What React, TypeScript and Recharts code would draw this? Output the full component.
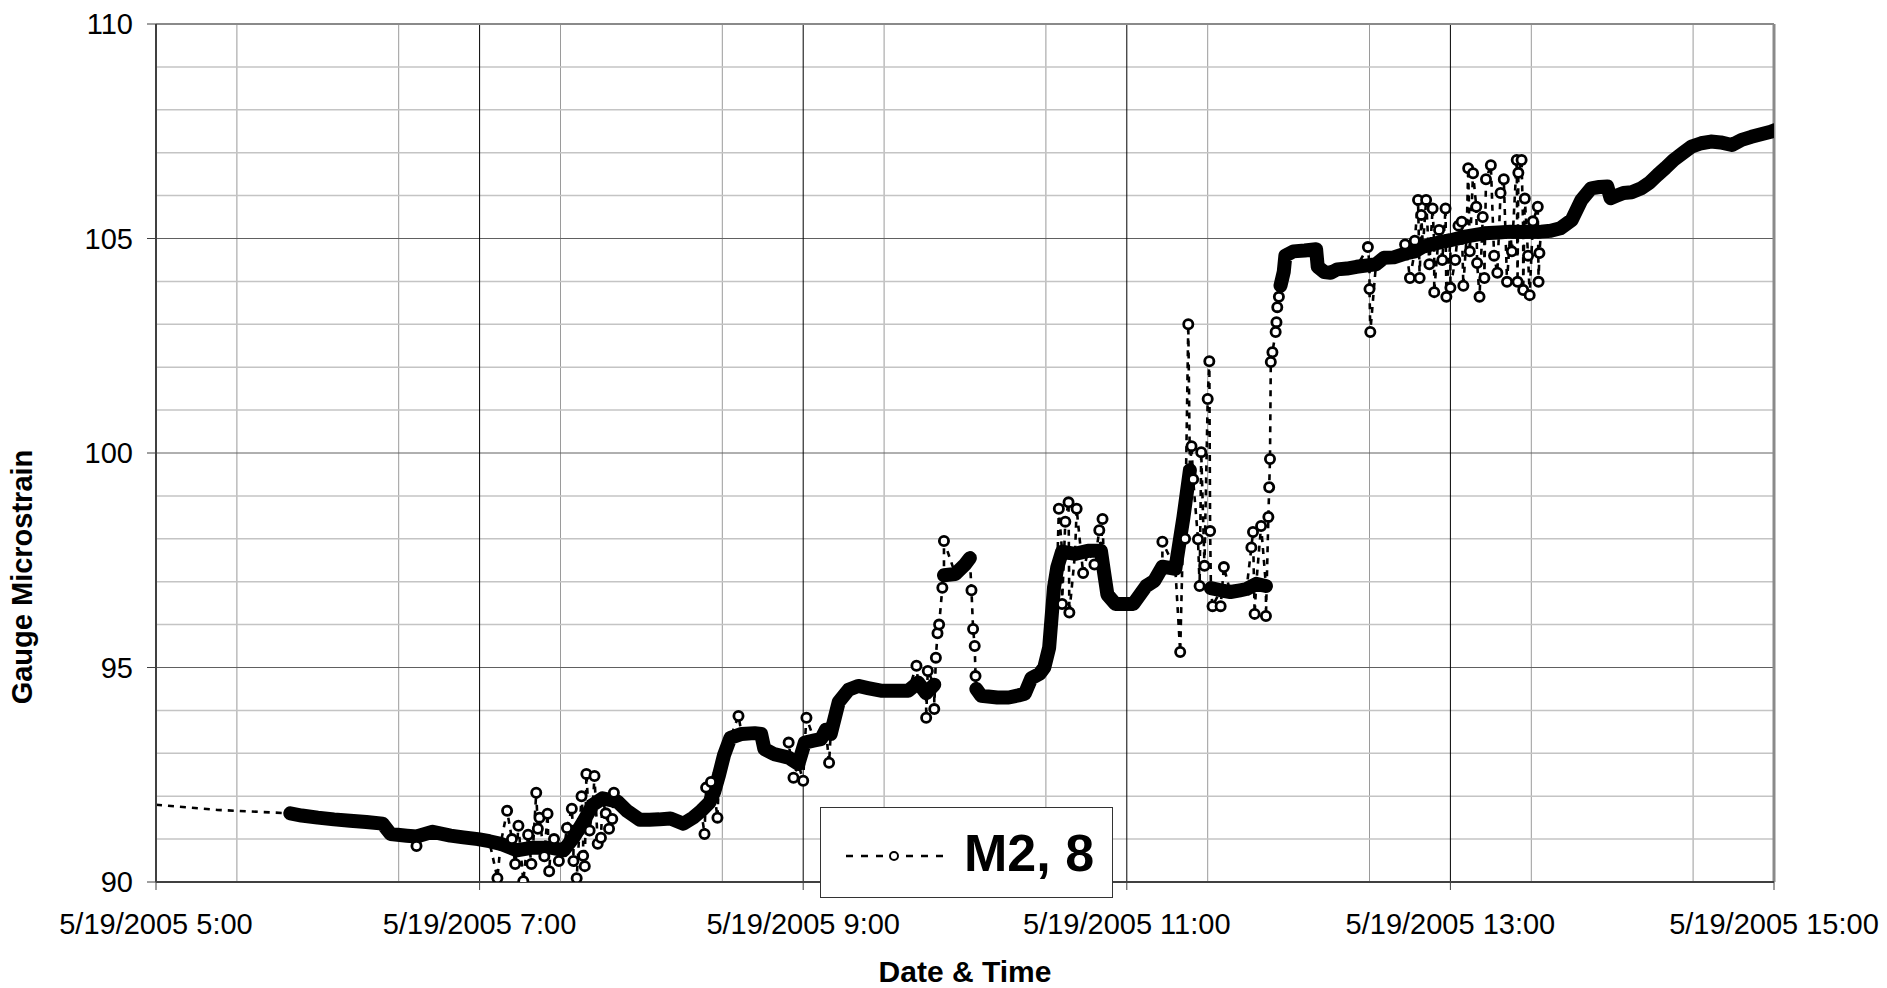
import React from 'react';
import { LineChart, Line, XAxis, YAxis, CartesianGrid } from 'recharts';

const FONT = '"Liberation Sans", Arial, Helvetica, sans-serif';

// time in hours on 5/19/2005, value in microstrain
const leadIn: [number, number][] = [
  [5.0, 91.8], [5.38, 91.68],
];

// the dense trace (null = jump drawn only as dashed points)
const trendBand: [number, number | null][] = [
  [5.83, 91.6], [5.9, 91.55], [6.0, 91.5], [6.1, 91.46], [6.2, 91.43], [6.3, 91.4],
  [6.4, 91.36], [6.45, 91.12], [6.55, 91.08], [6.61, 91.06], [6.71, 91.17], [6.82, 91.08],
  [6.9, 91.04], [6.99, 91.0], [7.06, 90.95], [7.13, 90.89], [7.23, 90.74], [7.33, 90.8],
  [7.44, 90.8], [7.52, 90.74], [7.58, 91.03], [7.64, 91.4], [7.7, 91.8], [7.76, 91.95],
  [7.85, 91.88], [7.91, 91.66], [7.99, 91.45], [8.05, 91.45], [8.11, 91.46], [8.18, 91.48],
  [8.26, 91.36], [8.32, 91.5], [8.37, 91.66], [8.42, 91.85], [8.45, 92.1], [8.48, 92.5],
  [8.51, 92.95], [8.55, 93.36], [8.62, 93.45], [8.7, 93.47], [8.74, 93.45], [8.76, 93.1],
  [8.82, 92.98], [8.91, 92.9], [8.97, 92.75], [9.01, 93.25], [9.07, 93.3], [9.11, 93.33],
  [9.14, 93.55], [9.17, 93.45], [9.22, 94.2], [9.28, 94.48], [9.34, 94.57], [9.4, 94.52],
  [9.48, 94.46], [9.56, 94.46], [9.65, 94.46], [9.71, 94.65], [9.76, 94.4], [9.81, 94.6],
  [9.845, null],
  [9.87, 97.15], [9.94, 97.18], [10.0, 97.4], [10.03, 97.55],
  [10.05, null],
  [10.07, 94.5], [10.1, 94.34], [10.2, 94.3], [10.27, 94.3], [10.33, 94.35], [10.37, 94.39],
  [10.41, 94.75], [10.46, 94.85], [10.49, 95.0], [10.52, 95.46], [10.54, 96.4], [10.55, 96.86],
  [10.57, 97.33], [10.6, 97.7], [10.68, 97.65], [10.76, 97.72], [10.84, 97.72], [10.86, 97.2],
  [10.88, 96.7], [10.93, 96.48], [11.04, 96.48], [11.12, 96.9], [11.17, 97.02], [11.22, 97.35],
  [11.3, 97.3], [11.35, 98.5], [11.39, 99.6],
  [11.45, null],
  [11.52, 96.85], [11.58, 96.8], [11.64, 96.76], [11.7, 96.8], [11.74, 96.83], [11.8, 96.95],
  [11.86, 96.9],
  [11.9, null],
  [11.95, 103.9], [11.97, 104.22], [11.98, 104.6], [12.03, 104.7], [12.1, 104.72], [12.17, 104.75],
  [12.18, 104.34], [12.22, 104.22], [12.26, 104.2], [12.3, 104.28], [12.36, 104.3], [12.42, 104.34],
  [12.5, 104.38], [12.54, 104.4], [12.59, 104.55], [12.65, 104.56], [12.73, 104.66], [12.78, 104.7],
  [12.83, 104.81], [12.9, 104.88], [13.0, 104.96], [13.1, 105.05], [13.21, 105.12], [13.3, 105.14],
  [13.37, 105.16], [13.45, 105.15], [13.56, 105.16], [13.62, 105.18], [13.68, 105.24], [13.75, 105.43],
  [13.81, 105.9], [13.87, 106.17], [13.92, 106.2], [13.97, 106.21], [13.99, 105.94], [14.03, 106.0],
  [14.07, 106.06], [14.12, 106.08], [14.18, 106.17], [14.23, 106.3], [14.28, 106.48], [14.33, 106.65],
  [14.38, 106.83], [14.44, 107.0], [14.49, 107.14], [14.55, 107.22], [14.61, 107.26], [14.67, 107.24],
  [14.74, 107.18], [14.8, 107.3], [14.86, 107.37], [14.92, 107.43], [14.98, 107.49], [15.0, 107.52],
];

// scattered readings away from the trace
const spikes: [number, number][] = [
  [6.61, 90.84],
  [7.11, 90.09], [7.17, 91.66], [7.2, 91.0], [7.22, 90.42], [7.24, 91.31], [7.27, 90.02],
  [7.3, 91.1], [7.32, 90.42], [7.35, 92.08], [7.36, 91.24], [7.37, 91.5], [7.4, 90.6],
  [7.42, 91.59], [7.43, 90.25], [7.46, 91.0], [7.49, 90.49], [7.54, 91.26], [7.57, 91.71],
  [7.58, 90.49], [7.6, 90.09], [7.63, 92.0], [7.64, 90.61], [7.65, 90.37], [7.66, 92.52],
  [7.68, 91.2], [7.71, 92.47], [7.73, 90.89], [7.75, 91.03], [7.78, 91.6], [7.8, 91.24],
  [7.82, 91.47], [7.83, 92.08],
  [8.39, 91.12], [8.4, 92.2], [8.43, 92.33], [8.47, 91.5], [8.6, 93.87], [8.91, 93.25],
  [8.94, 92.43], [9.0, 92.36], [9.02, 93.83], [9.16, 92.78],
  [9.7, 95.04], [9.76, 93.83], [9.77, 94.92], [9.81, 94.03], [9.82, 95.23], [9.83, 95.8],
  [9.84, 96.0], [9.86, 96.86], [9.87, 97.95],
  [10.04, 96.8], [10.05, 95.9], [10.06, 95.5], [10.065, 94.8],
  [10.58, 98.7], [10.6, 96.48], [10.62, 98.4], [10.64, 98.85], [10.645, 96.28], [10.69, 98.7],
  [10.73, 97.2], [10.8, 97.4], [10.83, 98.2], [10.85, 98.46],
  [11.22, 97.93], [11.33, 95.36], [11.36, 98.0], [11.38, 103.0], [11.4, 100.16], [11.41, 99.39],
  [11.44, 97.99], [11.45, 96.9], [11.46, 100.02], [11.48, 97.37], [11.5, 101.26], [11.51, 102.14],
  [11.515, 98.18], [11.53, 96.43], [11.58, 96.43], [11.6, 97.34], [11.77, 97.8], [11.78, 98.16],
  [11.79, 96.25], [11.83, 98.3], [11.86, 96.2], [11.875, 98.51], [11.88, 99.2], [11.885, 99.86],
  [11.89, 102.12], [11.9, 102.35], [11.92, 102.82], [11.925, 103.05], [11.93, 103.4], [11.94, 103.64],
  [12.49, 104.8], [12.5, 103.82], [12.505, 102.82],
  [12.72, 104.86], [12.75, 104.08], [12.78, 104.95], [12.8, 105.9], [12.81, 104.08], [12.82, 105.55],
  [12.85, 105.9], [12.87, 104.4], [12.89, 105.7], [12.9, 103.75], [12.93, 105.2], [12.95, 104.5],
  [12.97, 105.7], [12.975, 103.64], [13.0, 103.85], [13.03, 104.5], [13.05, 105.3], [13.07, 105.39],
  [13.08, 103.9], [13.11, 106.64], [13.12, 104.7], [13.14, 106.52], [13.16, 105.74], [13.165, 104.43],
  [13.18, 103.64], [13.2, 105.5], [13.21, 104.08], [13.22, 106.38], [13.25, 106.71], [13.27, 104.6],
  [13.29, 104.2], [13.31, 106.06], [13.33, 106.38], [13.35, 103.99], [13.38, 104.7], [13.41, 106.83],
  [13.415, 103.99], [13.42, 106.53], [13.44, 106.83], [13.45, 103.8], [13.46, 105.93], [13.48, 104.6],
  [13.49, 103.68], [13.51, 105.4], [13.54, 105.74], [13.545, 103.99], [13.55, 104.66],
];

const xTicks = [5, 7, 9, 11, 13, 15];
const yTicks = [90, 95, 100, 105, 110];
const xMinor = [5.5, 6, 6.5, 7.5, 8, 8.5, 9.5, 10, 10.5, 11.5, 12, 12.5, 13.5, 14, 14.5];
const xMajor = [7, 9, 11, 13];
const yMinor = [91, 92, 93, 94, 96, 97, 98, 99, 101, 102, 103, 104, 106, 107, 108, 109];
const yMajor = [95, 100, 105];

const bandData = trendBand.map(([t, v]) => ({ t, v }));
const seriesData = [
  ...leadIn.map(([t, v]) => ({ t, v, mark: false })),
  ...trendBand.filter(([, v]) => v !== null).map(([t, v]) => ({ t, v: v as number, mark: false })),
  ...spikes.map(([t, v]) => ({ t, v, mark: true })),
].sort((a, b) => a.t - b.t);

// only readings off the trace show as open circles; on the trace they merge into the band
const renderDot = (p: any) => {
  if (!p.payload.mark) return <g key={`d${p.index}`} />;
  return (
    <circle key={`d${p.index}`} cx={p.cx} cy={p.cy} r={4.6}
      fill="#fff" stroke="#000" strokeWidth={2.8} />
  );
};

const tickStyle = { fill: '#000', fontSize: 29, fontFamily: FONT };

export default function App() {
  return (
    <div style={{ position: 'absolute', left: 0, top: 0, width: 1887, height: 988, background: '#fff' }}>
      <LineChart width={1887} height={988} margin={{ top: 24, right: 113, bottom: 0, left: 76 }}>
        <CartesianGrid horizontal={false} verticalValues={xMinor} stroke="#9a9a9a" />
        <CartesianGrid vertical={false} horizontalValues={yMinor} stroke="#c4c4c4" strokeWidth={1.5} />
        <CartesianGrid vertical={false} horizontalValues={yMajor} stroke="#606060" />
        <CartesianGrid horizontal={false} verticalValues={xMajor} stroke="#000" />
        <CartesianGrid vertical={false} horizontalValues={[110]} stroke="#8a8a8a" strokeWidth={2} />
        <CartesianGrid horizontal={false} verticalValues={[15]} stroke="#8a8a8a" strokeWidth={3} />
        <XAxis
          type="number"
          dataKey="t"
          domain={[5, 15]}
          ticks={xTicks}
          allowDataOverflow
          height={106}
          tickFormatter={(h: number) => `5/19/2005 ${h}:00`}
          tick={tickStyle}
          tickSize={8}
          tickMargin={23}
          axisLine={{ stroke: '#404040', strokeWidth: 2 }}
          tickLine={{ stroke: '#404040' }}
          label={{
            value: 'Date & Time',
            position: 'insideBottom',
            offset: 6,
            style: { fontFamily: FONT, fontWeight: 'bold', fontSize: 30, fill: '#000' },
          }}
        />
        <YAxis
          type="number"
          domain={[90, 110]}
          ticks={yTicks}
          allowDataOverflow
          width={80}
          tick={tickStyle}
          tickSize={9}
          tickMargin={14}
          axisLine={{ stroke: '#404040', strokeWidth: 2 }}
          tickLine={{ stroke: '#404040' }}
          label={{
            content: () => (
              <text x={32} y={577} transform="rotate(-90 32 577)" textAnchor="middle"
                fontFamily={FONT} fontWeight="bold" fontSize={29} fill="#000">
                Gauge Microstrain
              </text>
            ),
          }}
        />
        <Line
          data={seriesData}
          dataKey="v"
          name="M2, 8"
          stroke="#000"
          strokeWidth={2.6}
          strokeDasharray="6 6"
          dot={renderDot}
          activeDot={false}
          isAnimationActive={false}
        />
        <Line
          data={bandData}
          dataKey="v"
          stroke="#000"
          strokeWidth={14}
          strokeLinejoin="round"
          strokeLinecap="round"
          dot={false}
          activeDot={false}
          isAnimationActive={false}
        />
      </LineChart>
      <div style={{
        position: 'absolute', left: 820, top: 807, width: 293, height: 91,
        boxSizing: 'border-box', border: '1.5px solid #333', background: '#fff',
      }}>
        <svg width={290} height={88} style={{ position: 'absolute', left: 0, top: 0 }}>
          <line x1={25} y1={48} x2={128} y2={48} stroke="#000" strokeWidth={2.5} strokeDasharray="7 8" />
          <circle cx={73} cy={48} r={4} fill="#fff" stroke="#000" strokeWidth={2} />
          <text x={143} y={63} fontFamily={FONT} fontWeight="bold" fontSize={52} fill="#000">M2, 8</text>
        </svg>
      </div>
    </div>
  );
}
